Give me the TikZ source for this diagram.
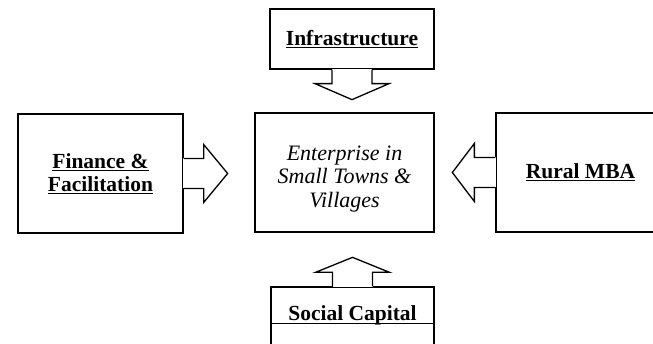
\documentclass[tikz,border=0pt]{standalone}
\usepackage{fontspec}
\setmainfont{Liberation Serif}
\begin{document}
\begin{tikzpicture}[x=1pt,y=-1pt,line join=miter,line width=1.3pt,
	box/.style={draw,rectangle,inner sep=0pt,align=center,font=\fontsize{21.5}{22.5}\selectfont\bfseries},
	itlbl/.style={align=center,inner sep=0pt,font=\fontsize{22}{23.5}\selectfont\itshape}]
			\def\stem{15}
			\def\wing{29}
			\useasboundingbox (0,0) rectangle (653,344);
			\clip (0,0) rectangle (653,344);
			\node[box,minimum width=179pt,minimum height=119pt] (enterprise) at (344.5,172.5) {};
			\node[itlbl] (entlbl) at ([yshift=-6.5pt]enterprise.center) {Enterprise in\\Small Towns \&\\Villages};
			\node[box,minimum width=164pt,minimum height=60pt] (infra) at (352,39) {\underline{Infrastructure}};
			\node[box,minimum width=165pt,minimum height=119pt] (finance) at (100.5,173.5) {\underline{Finance \&}\\\underline{Facilitation}};
			\node[box,minimum width=169pt,minimum height=119pt] (rmba) at (580.5,172.5) {\underline{Rural MBA}};
			\node[box,minimum width=163pt,minimum height=73pt] (social) at (352.5,323.5) {};
			\node[box,draw=none,anchor=base] (soclbl) at ([yshift=2.5pt]social.center) {Social Capital};
			\draw (social.west) -- (social.east);
			% block arrows
			\fill[white] (finance.east) ++(-1,-\stem) rectangle ++(2,2*\stem);
			\draw (finance.east) ++(0,-\stem) -- ++(20,0) -- ++(0,\stem-\wing) -- ++(24,\wing) -- ++(-24,\wing) -- ++(0,\stem-\wing) -- ++(-20,0);
			\fill[white] (rmba.west) ++(-1,-\stem) rectangle ++(2,2*\stem);
			\draw (rmba.west) ++(0,-\stem) -- ++(-21,0) -- ++(0,\stem-\wing) -- ++(-22,\wing) -- ++(22,\wing) -- ++(0,\stem-\wing) -- ++(21,0);
			\fill[white] (infra.south) ++(-20,-1) rectangle ++(40,2);
			\draw (infra.south) ++(-20,0) -- ++(0,14) -- ++(-17,0) -- ++(37,16) -- ++(37,-16) -- ++(-17,0) -- ++(0,-14);
			\fill[white] (social.north) ++(-20,-1) rectangle ++(40,2);
			\draw (social.north) ++(-20,0) -- ++(0,-14) -- ++(-17,0) -- ++(37,-15) -- ++(37,15) -- ++(-17,0) -- ++(0,14);
	\end{tikzpicture}
\end{document}
